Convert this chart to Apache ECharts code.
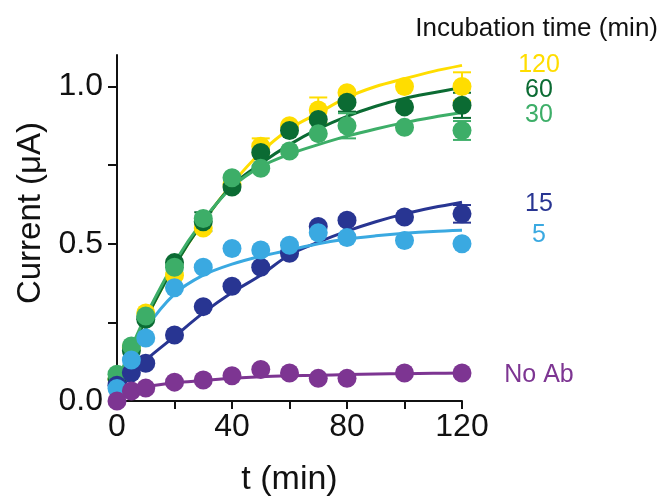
<!DOCTYPE html>
<html>
<head>
<meta charset="utf-8">
<script src="https://cdn.jsdelivr.net/npm/echarts@6/dist/echarts.min.js"></script>
<style>
  html, body { margin: 0; padding: 0; background: #fff; }
  #main { width: 663px; height: 497px; }
</style>
</head>
<body>
<div id="main"></div>
<script>
// sampling times (min) of the measured points
const tPts = [0, 5, 10, 20, 30, 40, 50, 60, 70, 80, 100, 120];
const tFit = [0, 5, 10, 20, 30, 40, 50, 60, 70, 80, 90, 100, 110, 120];

const groups = ['120', '60', '30', '15', '5', 'No Ab'];
const colors = ['#FFDD00', '#0B6B33', '#3DAE68', '#283592', '#3AA9E1', '#7D3592'];

// measured current (uA)
const pts120 = [0.07, 0.17, 0.28, 0.40, 0.55, 0.69, 0.81, 0.875, 0.925, 0.98, 1.0, 1.0];
const pts60  = [0.07, 0.16, 0.26, 0.44, 0.57, 0.68, 0.79, 0.86, 0.895, 0.95, 0.935, 0.94];
const pts30  = [0.085, 0.175, 0.27, 0.425, 0.58, 0.71, 0.74, 0.795, 0.85, 0.875, 0.87, 0.86];
const pts15  = [0.05, 0.09, 0.12, 0.21, 0.30, 0.365, 0.425, 0.47, 0.555, 0.575, 0.585, 0.595];
const pts5   = [0.04, 0.13, 0.20, 0.36, 0.425, 0.485, 0.48, 0.495, 0.535, 0.52, 0.51, 0.50];
const ptsNoAb = [0.0, 0.032, 0.041, 0.06, 0.067, 0.08, 0.10, 0.089, 0.072, 0.072, 0.089, 0.089];

// error bars (half height, null = none visible)
const err120 = [null, null, null, null, null, null, 0.025, null, 0.04, null, null, 0.045];
const err60  = [null, null, null, null, 0.03, null, null, null, null, 0.03, null, 0.04];
const err30  = [null, null, null, null, null, null, null, null, null, 0.04, null, 0.03];
const err15  = [null, null, null, null, null, null, null, null, null, null, null, 0.028];
const err5   = [];
const errNoAb = [];

// fitted curves
const fit120 = [0.05, 0.16, 0.26, 0.43, 0.57, 0.69, 0.79, 0.865, 0.915, 0.965, 1.0, 1.025, 1.048, 1.067];
const fit60  = [0.05, 0.16, 0.26, 0.43, 0.57, 0.685, 0.755, 0.815, 0.865, 0.905, 0.937, 0.962, 0.98, 0.997];
const fit30  = [0.06, 0.17, 0.27, 0.44, 0.575, 0.68, 0.745, 0.785, 0.815, 0.842, 0.865, 0.885, 0.902, 0.917];
const fit15  = [0.03, 0.08, 0.13, 0.205, 0.28, 0.345, 0.40, 0.465, 0.505, 0.54, 0.57, 0.595, 0.615, 0.632];
const fit5   = [0.05, 0.14, 0.23, 0.34, 0.40, 0.435, 0.46, 0.48, 0.50, 0.515, 0.525, 0.533, 0.539, 0.543];
const fitNoAb = [0.02, 0.035, 0.045, 0.058, 0.065, 0.072, 0.077, 0.08, 0.082, 0.084, 0.086, 0.087, 0.088, 0.089];

const xTicks = [0, 20, 40, 60, 80, 100, 120];
const xLabels = [0, 40, 80, 120];
const yTicks = [0, 0.25, 0.5, 0.75, 1.0];
const yLabels = [0, 0.5, 1.0];

const allPts = [pts120, pts60, pts30, pts15, pts5, ptsNoAb];
const allErr = [err120, err60, err30, err15, err5, errNoAb];
const allFit = [fit120, fit60, fit30, fit15, fit5, fitNoAb];
const labelOffsets = [[0, 0], [0, 3], [0, 3], [0, 2], [0, 5], [0, 2]];

const font = "'Liberation Sans', Arial, sans-serif";
const ink = '#111';

var chart = echarts.init(document.getElementById('main'));

var series = [];
groups.forEach(function (g, i) {
    series.push({
        name: g,
        type: 'line',
        data: tFit.map(function (t, k) { return [t, allFit[i][k]]; }),
        smooth: 0.3,
        showSymbol: false,
        z: 2,
        lineStyle: { color: colors[i], width: 3 },
        endLabel: {
            show: true,
            formatter: g,
            color: colors[i],
            fontSize: 25,
            fontFamily: font,
            align: 'center',
            verticalAlign: 'middle',
            distance: 0,
            offset: [77 + labelOffsets[i][0], labelOffsets[i][1]]
        }
    });
    var errData = [];
    tPts.forEach(function (t, k) {
        if (allErr[i][k] != null) errData.push([t, allPts[i][k], allErr[i][k]]);
    });
    if (errData.length) {
        series.push({
            type: 'custom',
            z: 3,
            data: errData,
            renderItem: function (params, api) {
                var x = api.value(0), y = api.value(1), e = api.value(2);
                var top = api.coord([x, y + e]);
                var bot = api.coord([x, y - e]);
                var st = { stroke: colors[i], lineWidth: 2 };
                return {
                    type: 'group',
                    children: [
                        { type: 'line', shape: { x1: top[0], y1: top[1], x2: bot[0], y2: bot[1] }, style: st },
                        { type: 'line', shape: { x1: top[0] - 9, y1: top[1], x2: top[0] + 9, y2: top[1] }, style: st },
                        { type: 'line', shape: { x1: bot[0] - 9, y1: bot[1], x2: bot[0] + 9, y2: bot[1] }, style: st }
                    ]
                };
            }
        });
    }
    series.push({
        type: 'scatter',
        data: tPts.map(function (t, k) { return [t, allPts[i][k]]; }),
        symbolSize: 19,
        z: 4,
        itemStyle: { color: colors[i], opacity: 1 }
    });
});

var option = {
    animation: false,
    title: {
        text: 'Incubation time (min)',
        right: 0,
        top: 11,
        textStyle: { fontSize: 26, fontWeight: 'normal', color: ink, fontFamily: font }
    },
    grid: { left: 117, right: 201, top: 55, bottom: 96, containLabel: false, outerBoundsMode: 'none' },
    xAxis: {
        type: 'value',
        min: 0,
        max: 120,
        interval: 20,
        name: 't (min)',
        nameLocation: 'middle',
        nameGap: 62,
        nameTextStyle: { fontSize: 34, color: ink, fontFamily: font },
        splitLine: { show: false },
        axisLine: { lineStyle: { color: ink, width: 2 } },
        axisTick: { show: true, length: 8, lineStyle: { color: ink, width: 2 }, customValues: xTicks },
        axisLabel: { fontSize: 32, color: ink, fontFamily: font, margin: 10, customValues: xLabels }
    },
    yAxis: {
        type: 'value',
        min: 0,
        max: 1.1,
        name: 'Current (\u03bcA)',
        nameLocation: 'middle',
        nameGap: 70,
        nameTextStyle: { fontSize: 33, color: ink, fontFamily: font, padding: [0, 0, 0, 30] },
        splitLine: { show: false },
        axisLine: { show: true, lineStyle: { color: ink, width: 2 } },
        axisTick: { show: true, length: 9, lineStyle: { color: ink, width: 2 }, customValues: yTicks },
        axisLabel: {
            fontSize: 32, color: ink, fontFamily: font, margin: 14, customValues: yLabels,
            formatter: function (v) { return v.toFixed(1); }
        }
    },
    series: series
};

chart.setOption(option);
</script>
</body>
</html>
